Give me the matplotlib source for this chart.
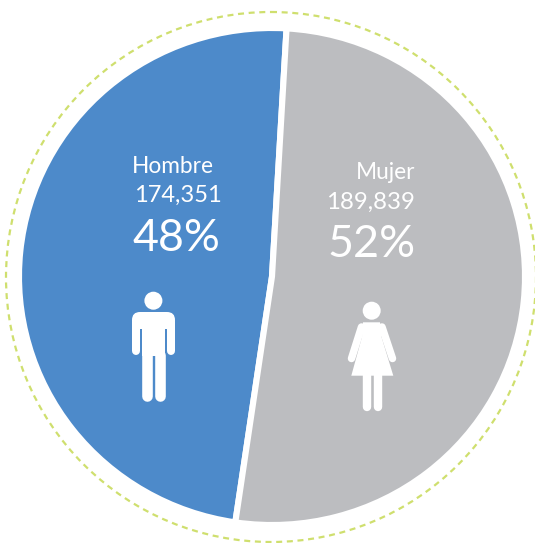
import matplotlib
matplotlib.use("Agg")
import matplotlib.pyplot as plt
from matplotlib.patches import Circle, Ellipse, FancyBboxPatch, Polygon, Rectangle

W, H = 535, 543
categories = ["Hombre", "Mujer"]
count_labels = ["174,351", "189,839"]
percent_labels = ["48%", "52%"]
# Slice shares as drawn in the picture (measured from the divider angle,
# slightly different from the printed counts)
drawn_shares = [48.6, 51.4]
colors = ["#4d8aca", "#bcbdc0"]
WHITE = "white"
FONT = "Lato"

fig = plt.figure(figsize=(W / 100, H / 100), dpi=100, facecolor="white")

# Pie axes: covers the (slightly elliptical) pie box, with margin for the white wedge edge
pad = 3
L, R, T, B = 22 - pad, 522 + pad, 31 - pad, 522 + pad
pie_ax = fig.add_axes([L / W, 1 - B / H, (R - L) / W, (B - T) / H])
pie_ax.pie(drawn_shares, colors=colors, startangle=86.7, counterclock=True, radius=1,
           wedgeprops=dict(edgecolor="white", linewidth=4.4, joinstyle="miter"))
pie_ax.set_aspect("auto")
pie_ax.set_xlim(-1, 1)
pie_ax.set_ylim(-1, 1)
pie_ax.axis("off")

# Overlay in reference pixel coordinates (y downward)
ax = fig.add_axes([0, 0, 1, 1], facecolor="none")
ax.set_xlim(0, W)
ax.set_ylim(H, 0)
ax.axis("off")

ax.add_patch(Ellipse((271, 277), 530, 530, fill=False, edgecolor="#cfdf6e",
                     linewidth=1.6, linestyle=(0, (2.7, 2.1))))

def label(x, y, s, size, ha):
    ax.text(x, y, s, color=WHITE, fontsize=size, family=FONT, fontweight="normal",
            ha=ha, va="baseline")

label(132, 173, categories[0], 16.3, "left")
label(134, 202, count_labels[0], 17, "left")
label(132, 251, percent_labels[0], 32.3, "left")
label(415, 179, categories[1], 16.3, "right")
label(415, 209, count_labels[1], 17.3, "right")
label(416, 257, percent_labels[1], 32.3, "right")

def stroke(xs, ys, w_px, color=WHITE):
    ax.plot(xs, ys, color=color, linewidth=w_px * 0.72, solid_capstyle="round")

# Man icon
ax.add_patch(Circle((153.4, 300.7), 9, color=WHITE, lw=0))
ax.add_patch(FancyBboxPatch((140, 320), 27, 1, boxstyle="round,pad=8", color=WHITE, lw=0))
ax.add_patch(Rectangle((141.7, 314), 23.3, 42, color=WHITE, lw=0))
stroke([135.9, 135.9], [322, 351], 8.0)
stroke([170.8, 170.8], [322, 351], 8.0)
stroke([147, 147], [355, 396], 10.6)
stroke([159.7, 159.7], [355, 396], 10.6)

# Woman icon
ax.add_patch(Circle((371.7, 310.7), 9, color=WHITE, lw=0))
ax.add_patch(Polygon([(363, 322.3), (380, 322.3), (381.5, 337), (393.3, 375.7),
                      (351.3, 375.7), (362, 337)], closed=True, color=WHITE, lw=0))
stroke([361.5, 351.5], [327, 358.5], 7.5)
stroke([382, 392.5], [327, 358.5], 7.5)
stroke([366.8, 366.8], [372, 407], 8.4)
stroke([377.5, 377.5], [372, 407], 8.4)

fig.savefig("out.png", dpi=100, facecolor="white")
